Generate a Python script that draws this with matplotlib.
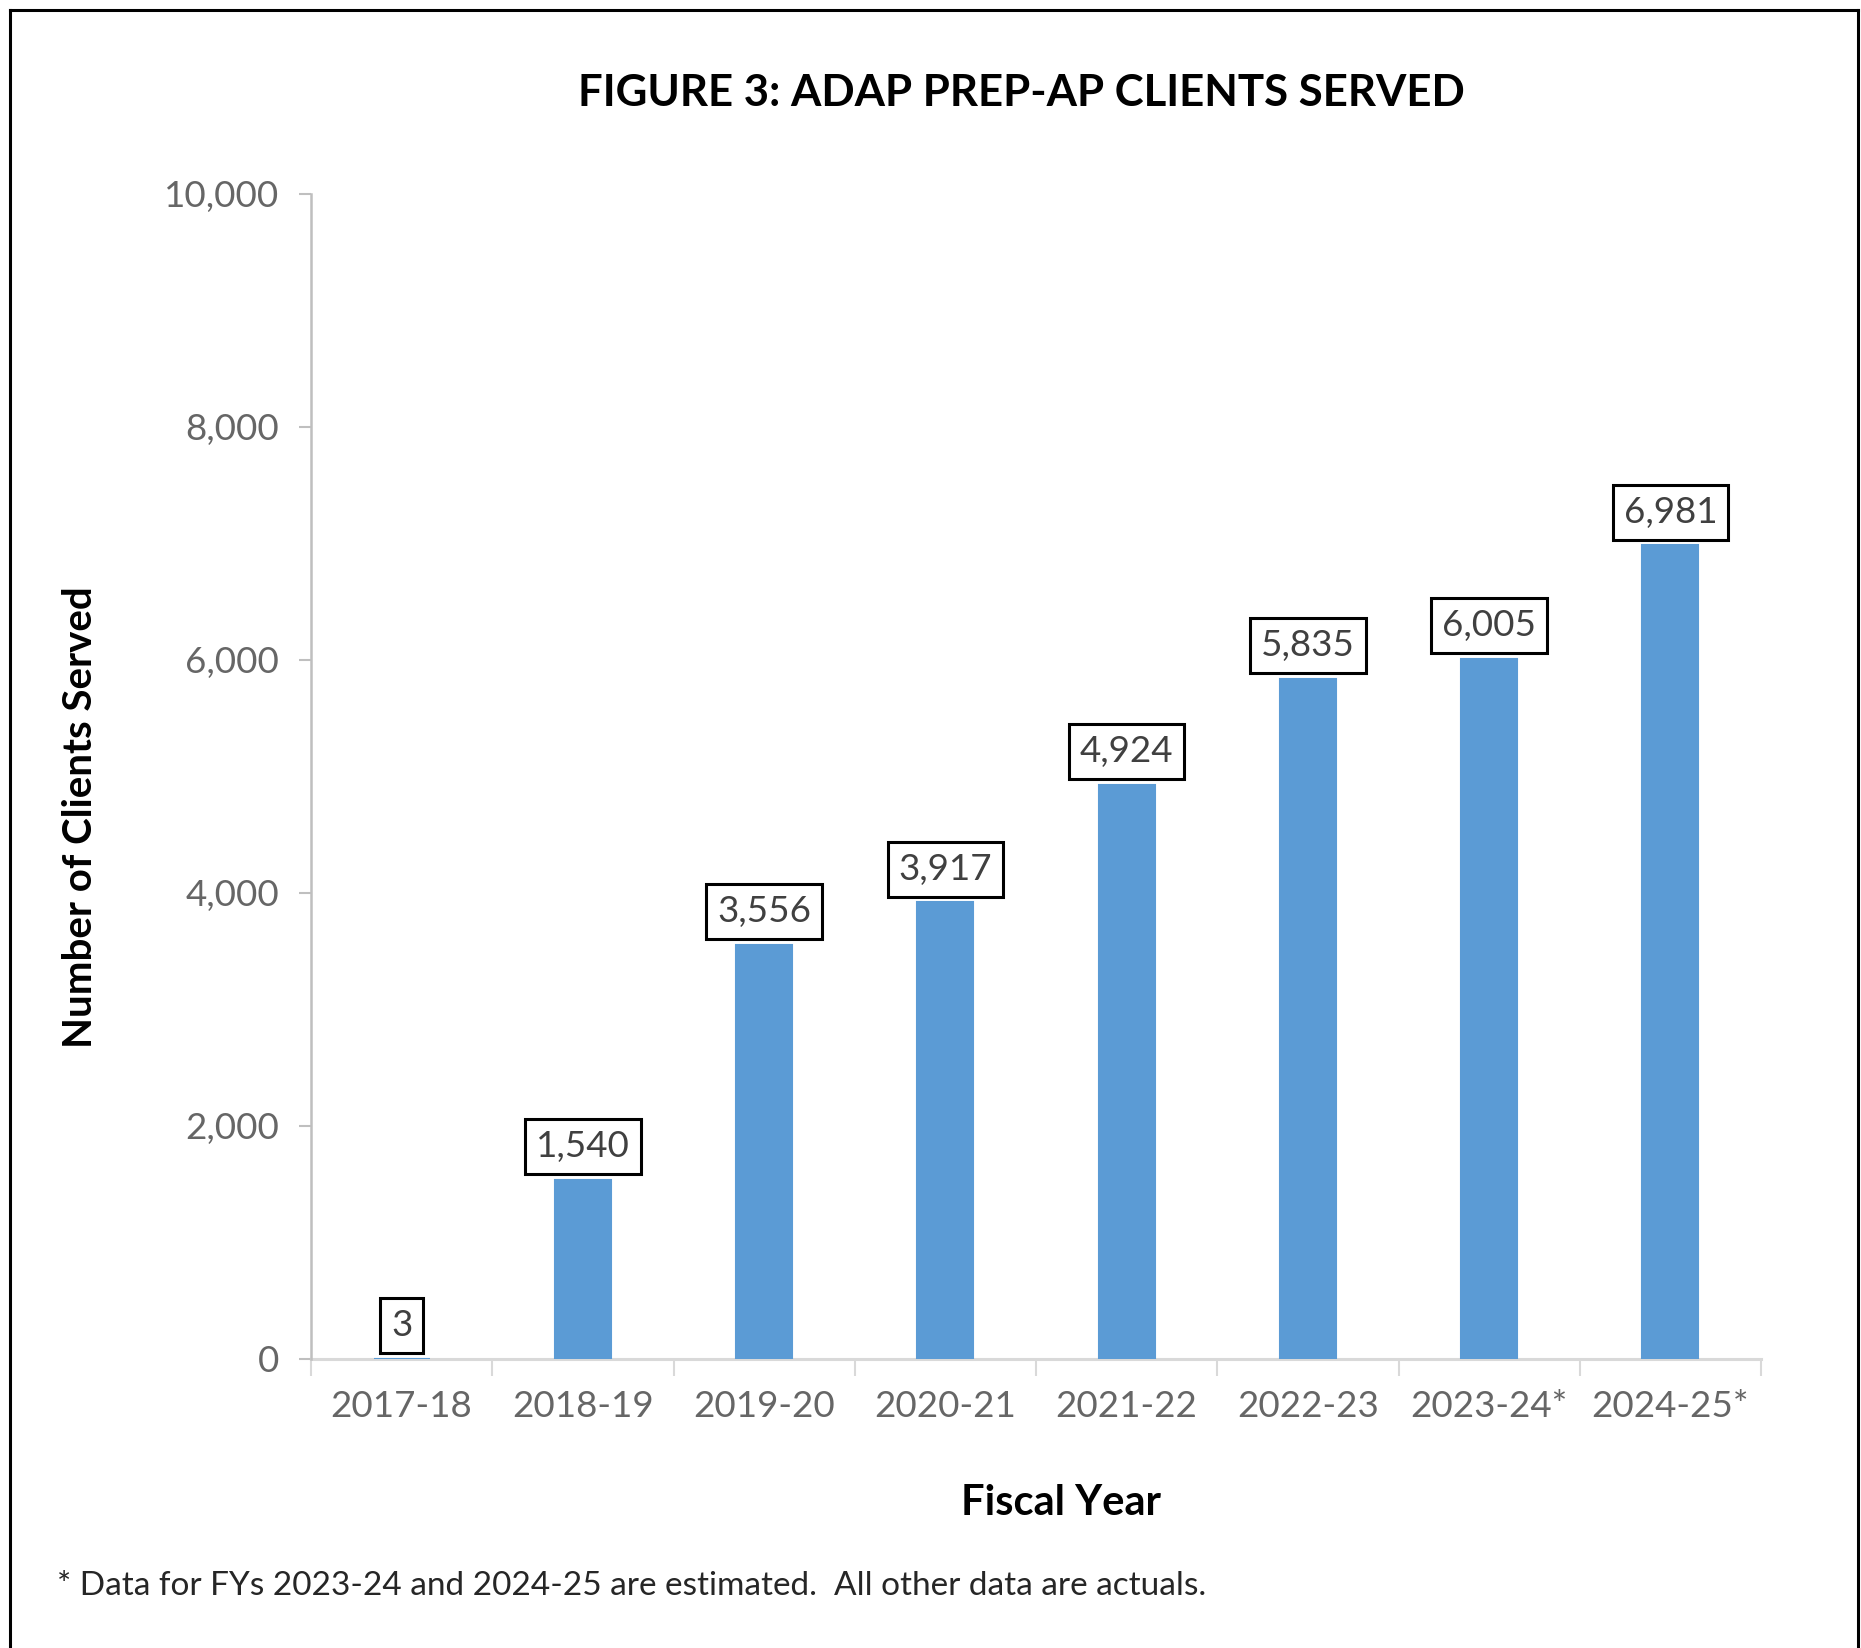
import matplotlib
matplotlib.use("Agg")
import matplotlib.pyplot as plt
from matplotlib.lines import Line2D
import numpy as np

categories = ["2017-18", "2018-19", "2019-20", "2020-21", "2021-22", "2022-23", "2023-24*", "2024-25*"]
clients = [3, 1540, 3556, 3917, 4924, 5835, 6005, 6981]
yticks = [0, 2000, 4000, 6000, 8000, 10000]

title = "FIGURE 3: ADAP PREP-AP CLIENTS SERVED"
xlabel = "Fiscal Year"
ylabel = "Number of Clients Served"
footnote = "* Data for FYs 2023-24 and 2024-25 are estimated.  All other data are actuals."

plt.rcParams['font.family'] = ['Lato', 'DejaVu Sans']

W, H = 1861, 1648
fig = plt.figure(figsize=(W / 100, H / 100), dpi=100)
fig.patch.set_facecolor("white")

ax = fig.add_axes([311 / W, 1 - 1359 / H, (1761 - 311) / W, (1359 - 193.5) / H])

x = np.arange(len(categories))
bar_color = "#5B9BD5"
ax.bar(x, clients, width=0.31, color=bar_color, edgecolor=bar_color, linewidth=1.5, zorder=3)

ax.set_xlim(-0.5, len(categories) - 0.5)
ax.set_ylim(0, 10000)

ax.set_yticks(yticks)
ax.set_yticklabels([f"{v:,}" for v in yticks])
ax.tick_params(axis="y", direction="out", length=9, width=1.5, color="#BFBFBF",
               labelsize=26.5, labelcolor="#666666", pad=14)

# category boundaries for x ticks
ax.set_xticks(np.arange(-0.5, len(categories), 1.0))
ax.set_xticklabels([])
ax.set_xticks(x, minor=True)
ax.set_xticklabels(categories, minor=True)
ax.tick_params(axis="x", which="major", direction="out", length=12, width=1.5, color="#D9D9D9")
ax.tick_params(axis="x", which="minor", length=0, labelsize=26.5, labelcolor="#666666", pad=22)

for side in ["top", "right"]:
    ax.spines[side].set_visible(False)
ax.spines["left"].set_color("#BFBFBF")
ax.spines["left"].set_linewidth(1.8)
ax.spines["bottom"].set_color("#D9D9D9")
ax.spines["bottom"].set_linewidth(2.2)
ax.spines["bottom"].set_zorder(2)

for xi, v in zip(x, clients):
    ax.annotate(f"{v:,}", xy=(xi, v), xytext=(0, 12), textcoords="offset points",
                ha="center", va="bottom", fontsize=26.5, color="#404040", zorder=5,
                bbox=dict(boxstyle="square,pad=0.3", facecolor="white", edgecolor="black", linewidth=2.2))

fig.text(1021 / W, 1 - 93 / H, title, ha="center", va="center", fontsize=31.5,
         fontweight="bold", color="black")
fig.text(81 / W, 1 - 817 / H, ylabel, ha="center", va="center", rotation=90,
         fontsize=29, fontweight="bold", color="black")
fig.text(1061 / W, 1 - 1503 / H, xlabel, ha="center", va="center", fontsize=30,
         fontweight="bold", color="black")
fig.text(57 / W, 1 - 1586 / H, footnote, ha="left", va="center", fontsize=24,
         color="#262626")

# outer border (left, top, right)
bc = "black"
fig.add_artist(Line2D([10 / W, 10 / W], [0, 1 - 10 / H], transform=fig.transFigure, color=bc, linewidth=2.2))
fig.add_artist(Line2D([10 / W, 1858 / W], [1 - 10 / H, 1 - 10 / H], transform=fig.transFigure, color=bc, linewidth=2.2))
fig.add_artist(Line2D([1858 / W, 1858 / W], [0, 1 - 10 / H], transform=fig.transFigure, color=bc, linewidth=2.2))

fig.savefig("out.png", dpi=100, facecolor="white")
